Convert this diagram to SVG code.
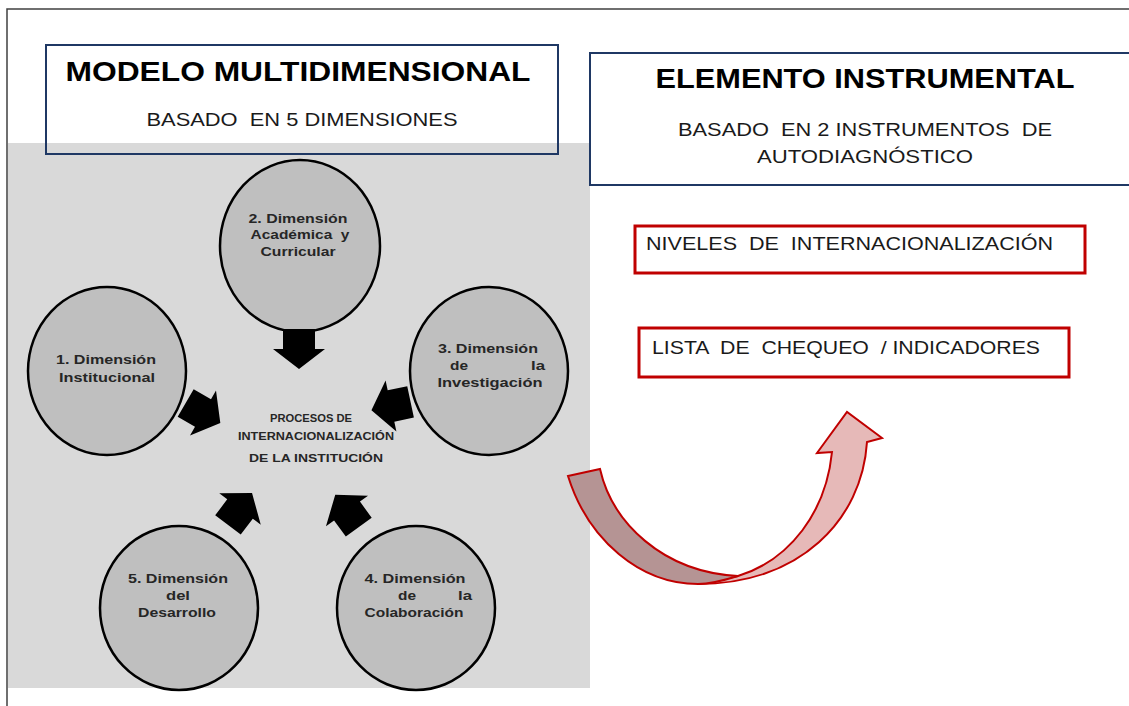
<svg xmlns="http://www.w3.org/2000/svg" width="1129" height="706" viewBox="0 0 1129 706">
<defs>
<style>
.frame{fill:none;stroke:#404040;stroke-width:1.5}
.blue{fill:none;stroke:#1f3864;stroke-width:2}
.red{fill:#ffffff;stroke:#c00000;stroke-width:3}
.circ{fill:#bfbfbf;stroke:#000;stroke-width:2.5}
.title{font-family:"Liberation Sans",Arial,sans-serif;font-weight:bold;font-size:27px;fill:#000}
.sub{font-family:"Liberation Sans",Arial,sans-serif;font-size:18px;fill:#1a1a1a;white-space:pre}
.ct{font-family:"Liberation Sans",Arial,sans-serif;font-weight:bold;font-size:13.5px;fill:#262626}
.cen{font-family:"Liberation Sans",Arial,sans-serif;font-weight:bold;font-size:11px;fill:#262626}
.blk{fill:#000}
</style>
<polygon id="barrow" points="-20,-16 0,-16 0,-26 20,0 0,26 0,16 -20,16"/>
</defs>
<rect x="0" y="0" width="1129" height="706" fill="#ffffff"/>
<path class="frame" d="M7,706 L7,9 L1129,9"/>
<rect x="8" y="143" width="582" height="545" fill="#d9d9d9"/>

<g id="box-modelo">
<rect class="blue" x="46" y="45" width="512" height="109"/>
<text class="title" x="298" y="81" text-anchor="middle" textLength="465" lengthAdjust="spacingAndGlyphs">MODELO MULTIDIMENSIONAL</text>
<text class="sub" x="302" y="126" text-anchor="middle" textLength="311" lengthAdjust="spacingAndGlyphs" xml:space="preserve">BASADO  EN 5 DIMENSIONES</text>
</g>

<g id="box-elemento">
<rect class="blue" x="590" y="53" width="545" height="132"/>
<text class="title" x="865" y="88" text-anchor="middle" textLength="419" lengthAdjust="spacingAndGlyphs">ELEMENTO INSTRUMENTAL</text>
<text class="sub" x="865" y="136" text-anchor="middle" textLength="374" lengthAdjust="spacingAndGlyphs" xml:space="preserve">BASADO  EN 2 INSTRUMENTOS  DE</text>
<text class="sub" x="865" y="163" text-anchor="middle" textLength="216" lengthAdjust="spacingAndGlyphs">AUTODIAGNÓSTICO</text>
</g>

<g id="box-niveles">
<rect class="red" x="635" y="226" width="450" height="47"/>
<text class="sub" x="646" y="250" textLength="407" lengthAdjust="spacingAndGlyphs" xml:space="preserve">NIVELES  DE  INTERNACIONALIZACIÓN</text>
</g>

<g id="box-lista">
<rect class="red" x="639" y="328" width="430" height="49"/>
<text class="sub" x="652" y="354" textLength="388" lengthAdjust="spacingAndGlyphs" xml:space="preserve">LISTA  DE  CHEQUEO  / INDICADORES</text>
</g>

<g id="dim2">
<ellipse class="circ" cx="300" cy="246" rx="80" ry="86"/>
<text class="ct" x="298" y="223" text-anchor="middle" textLength="99" lengthAdjust="spacingAndGlyphs">2. Dimensión</text>
<text class="ct" x="300" y="239" text-anchor="middle" textLength="99" lengthAdjust="spacingAndGlyphs" xml:space="preserve">Académica  y</text>
<text class="ct" x="298" y="256" text-anchor="middle" textLength="75" lengthAdjust="spacingAndGlyphs">Curricular</text>
</g>

<g id="dim1">
<ellipse class="circ" cx="107" cy="371" rx="79" ry="84"/>
<text class="ct" x="106" y="364" text-anchor="middle" textLength="100" lengthAdjust="spacingAndGlyphs">1. Dimensión</text>
<text class="ct" x="107" y="382" text-anchor="middle" textLength="96" lengthAdjust="spacingAndGlyphs">Institucional</text>
</g>

<g id="dim3">
<ellipse class="circ" cx="489" cy="371" rx="79" ry="84"/>
<text class="ct" x="488" y="353" text-anchor="middle" textLength="100" lengthAdjust="spacingAndGlyphs">3. Dimensión</text>
<text class="ct" x="450" y="370" textLength="18" lengthAdjust="spacingAndGlyphs">de</text>
<text class="ct" x="531" y="370" textLength="14" lengthAdjust="spacingAndGlyphs">la</text>
<text class="ct" x="490" y="387" text-anchor="middle" textLength="105" lengthAdjust="spacingAndGlyphs">Investigación</text>
</g>

<g id="dim5">
<ellipse class="circ" cx="179" cy="608" rx="79" ry="82"/>
<text class="ct" x="178" y="583" text-anchor="middle" textLength="100" lengthAdjust="spacingAndGlyphs">5. Dimensión</text>
<text class="ct" x="178" y="600" text-anchor="middle" textLength="24" lengthAdjust="spacingAndGlyphs">del</text>
<text class="ct" x="177" y="617" text-anchor="middle" textLength="78" lengthAdjust="spacingAndGlyphs">Desarrollo</text>
</g>

<g id="dim4">
<ellipse class="circ" cx="416" cy="608" rx="79" ry="82"/>
<text class="ct" x="415" y="583" text-anchor="middle" textLength="101" lengthAdjust="spacingAndGlyphs">4. Dimensión</text>
<text class="ct" x="398" y="600" textLength="18" lengthAdjust="spacingAndGlyphs">de</text>
<text class="ct" x="458" y="600" textLength="14" lengthAdjust="spacingAndGlyphs">la</text>
<text class="ct" x="414" y="617" text-anchor="middle" textLength="99" lengthAdjust="spacingAndGlyphs">Colaboración</text>
</g>

<g id="centro">
<text class="cen" x="311" y="422" text-anchor="middle" textLength="82" lengthAdjust="spacingAndGlyphs">PROCESOS DE</text>
<text class="cen" x="316" y="440" text-anchor="middle" textLength="156" lengthAdjust="spacingAndGlyphs">INTERNACIONALIZACIÓN</text>
<text class="cen" x="316" y="462" text-anchor="middle" textLength="134" lengthAdjust="spacingAndGlyphs">DE LA INSTITUCIÓN</text>
</g>

<g id="connectors">
<use href="#barrow" class="blk" transform="translate(299,349) rotate(90)"/>
<use href="#barrow" class="blk" transform="translate(203,413) rotate(30)"/>
<use href="#barrow" class="blk" transform="translate(391,406) rotate(168)"/>
<use href="#barrow" class="blk" transform="translate(240,509) rotate(-53)"/>
<use href="#barrow" class="blk" transform="translate(347,511) rotate(-126)"/>
<path d="M738,576 C790,560 826,512 832,452 L817,453 L847,412 L882,438 L867,442 C862,520 800,584 698,584 Z" fill="#e6b9b8" stroke="#c00000" stroke-width="2" stroke-linejoin="miter"/>
<path d="M568,476 L600,469 C612,522 662,572 738,576 C722,581 710,584 698,584 C640,584 588,540 568,476 Z" fill="#b59494" stroke="#c00000" stroke-width="2"/>
</g>
</svg>
